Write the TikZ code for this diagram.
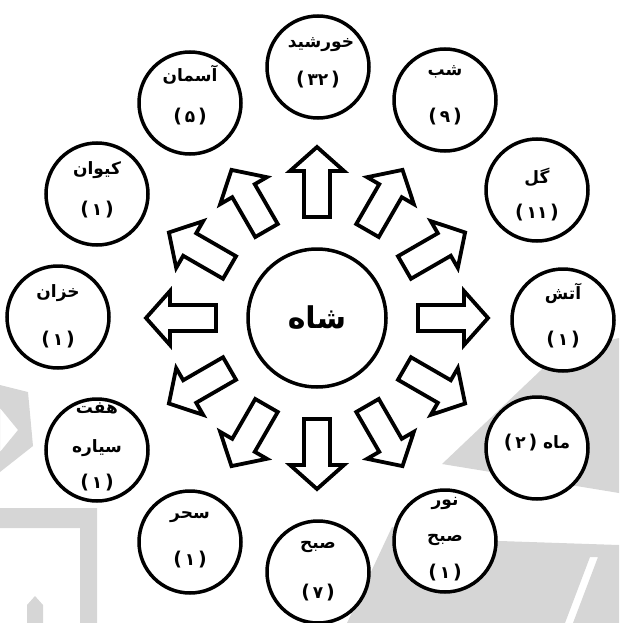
\documentclass[tikz,border=0pt]{standalone}
\usepackage{fontspec}
\usetikzlibrary{calc}
\newfontfamily\arabicfont[Script=Arabic]{DejaVu Sans}
\newfontfamily\parenfont{DejaVu Sans}
\newcommand{\pnum}[1]{{\parenfont\bfseries\fontsize{19}{21}\selectfont(}\,#1\,{\parenfont\bfseries\fontsize{19}{21}\selectfont)}}
\TeXXeTstate=1
\begin{document}
\begin{tikzpicture}[x=1pt,y=-1pt,
  ring/.style={circle, draw, line width=3.5pt, fill=white, minimum size=102pt, inner sep=0pt},
  hub/.style={circle, draw, line width=3.5pt, fill=white, minimum size=138pt, inner sep=0pt},
  lbl/.style={font=\arabicfont\bfseries\fontsize{17}{19}\selectfont, inner sep=0pt},
  num/.style={font=\arabicfont\bfseries\fontsize{17}{19}\selectfont, inner sep=0pt},
  biglbl/.style={font=\arabicfont\bfseries\fontsize{30}{33}\selectfont, inner sep=0pt},
  blockarrow/.style={draw, line width=3.8pt, fill=white, line join=miter},
  wm/.style={fill=black!16, draw=none}]
\useasboundingbox (0,0) rectangle (619,623);
% faint watermark
\fill[wm, even odd rule] (0,385) -- (28,392) -- (33,446) -- (0,472) -- cycle
   (0,408) -- (18,430) -- (0,452) -- cycle;
\fill[wm] (0,508) -- (97,508) -- (97,623) -- (80,623) -- (80,528) -- (0,528) -- cycle;
\fill[wm] (27,623) -- (27,605) -- (35,596) -- (43,605) -- (43,623) -- cycle;
\fill[wm] (619,338) -- (560,352) -- (442,464) -- (619,493) -- cycle;
\fill[wm, even odd rule] (347,623) -- (392,527) -- (470,540) -- (619,545) -- (619,623) -- cycle
   (590,557) -- (598,557) -- (573,623) -- (565,623) -- cycle;
% arrows
\foreach \a in {0,30,...,330}{
  \begin{scope}[shift={(317,318)}, rotate=\a]
    \draw[blockarrow] (101,-13) -- (147,-13) -- (147,-27) -- (171,0) -- (147,27) -- (147,13) -- (101,13) -- cycle;
  \end{scope}
}
% hub
\node[hub] (shah) at (317,318) {};
\node[biglbl] (shahT) at (317,318) {\beginR شاه\endR};
% outer circles
\node[ring] (c1) at (318,67) {};
\node[ring] (c2) at (445,100) {};
\node[ring] (c3) at (537,190) {};
\node[ring] (c4) at (563,320) {};
\node[ring] (c5) at (537,448) {};
\node[ring] (c6) at (445,541) {};
\node[ring] (c7) at (318,572) {};
\node[ring] (c8) at (190,542) {};
\node[ring] (c9) at (97,450) {};
\node[ring] (c10) at (58,317) {};
\node[ring] (c11) at (97,194) {};
\node[ring] (c12) at (190,103) {};
% labels
\node[lbl] (t1a) at ($(c1)+(3,-22)$) {\beginR خورشید\endR};
\node[num] (t1b) at ($(c1)+(0,13)$) {\pnum{۳۲}};
\node[lbl] (t2a) at ($(c2)+(0,-28)$) {\beginR شب\endR};
\node[num] (t2b) at ($(c2)+(0,17)$) {\pnum{۹}};
\node[lbl] (t3a) at ($(c3)+(0,-13)$) {\beginR گل\endR};
\node[num] (t3b) at ($(c3)+(0,23)$) {\pnum{۱۱}};
\node[lbl] (t4a) at ($(c4)+(0,-27)$) {\beginR آتش\endR};
\node[num] (t4b) at ($(c4)+(0,20)$) {\pnum{۱}};
\node[lbl] (t5a) at ($(c5)+(0,-5)$) {\pnum{۲}\ \beginR ماه\endR};
\node[lbl] (t6a) at ($(c6)+(0,-38)$) {\beginR نور\endR};
\node[lbl] (t6b) at ($(c6)+(0,-1)$) {\beginR صبح\endR};
\node[num] (t6c) at ($(c6)+(0,32)$) {\pnum{۱}};
\node[lbl] (t7a) at ($(c7)+(0,-25)$) {\beginR صبح\endR};
\node[num] (t7b) at ($(c7)+(0,21)$) {\pnum{۷}};
\node[lbl] (t8a) at ($(c8)+(0,-25)$) {\beginR سحر\endR};
\node[num] (t8b) at ($(c8)+(0,18)$) {\pnum{۱}};
\node[lbl] (t9a) at ($(c9)+(0,-42)$) {\beginR هفت\endR};
\node[lbl] (t9b) at ($(c9)+(0,-2)$) {\beginR سیاره\endR};
\node[num] (t9c) at ($(c9)+(0,33)$) {\pnum{۱}};
\node[lbl] (t10a) at ($(c10)+(0,-24)$) {\beginR خزان\endR};
\node[num] (t10b) at ($(c10)+(0,23)$) {\pnum{۱}};
\node[lbl] (t11a) at ($(c11)+(0,-24)$) {\beginR کیوان\endR};
\node[num] (t11b) at ($(c11)+(0,16)$) {\pnum{۱}};
\node[lbl] (t12a) at ($(c12)+(0,-28)$) {\beginR آسمان\endR};
\node[num] (t12b) at ($(c12)+(0,14)$) {\pnum{۵}};
\end{tikzpicture}
\end{document}
